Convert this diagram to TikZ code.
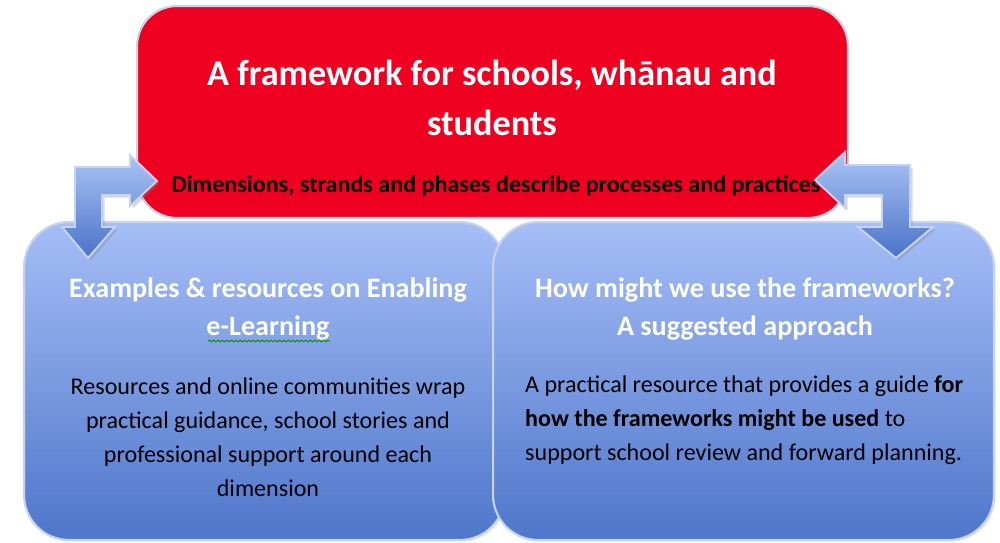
\documentclass[tikz,border=0pt]{standalone}
\usepackage{fontspec}
\setmainfont{Carlito}
\usepackage{tikz}
\usetikzlibrary{shadows,decorations.pathmorphing}
\definecolor{frameRed}{RGB}{240,0,32}
\definecolor{edgeBlue}{RGB}{198,212,238}
\definecolor{boxTop}{RGB}{166,190,247}
\definecolor{boxBottom}{RGB}{78,118,202}
\definecolor{arrowTop}{RGB}{170,196,245}
\definecolor{arrowBottom}{RGB}{74,114,200}

\begin{document}
\begin{tikzpicture}[x=0.02cm, y=0.02cm,
  bluebox/.style={draw=edgeBlue, line width=1.2pt, rounded corners=0.9cm,
    top color=boxTop, bottom color=boxBottom, minimum height=6.36cm,
    drop shadow={opacity=0.15, shadow xshift=1pt, shadow yshift=-1pt}},
  bentarrow/.style={draw=edgeBlue, line width=1.1pt, line join=miter,
    top color=arrowTop, bottom color=arrowBottom,
    drop shadow={opacity=0.3, shadow xshift=1.5pt, shadow yshift=-1.5pt}},
  headtext/.style={text=white, font=\bfseries\fontsize{16}{21.5}\selectfont, align=center},
  bodytext/.style={text=black, font=\fontsize{13.7}{19.3}\selectfont}]
\useasboundingbox (0,0) rectangle (1000,542);
%%%%% Boxes %%%%%
\node[bluebox, minimum width=9.62cm] (examples) at (264.5,161) {};
\node[bluebox, minimum width=10.02cm] (approach) at (743.5,161) {};
\node[draw=edgeBlue, line width=1.2pt, rounded corners=0.8cm, fill=frameRed,
  minimum width=14.22cm, minimum height=4.24cm] (framework) at (492.5,430) {};
%%%%% Texts %%%%%
\node[text=white, font=\bfseries\fontsize{20.6}{28.5}\selectfont, align=center]
  (frametitle) at (492,444) {A framework for schools, wh\=anau and\\students};
\node[font=\bfseries\fontsize{13.7}{16}\selectfont] (framesub) at (496,356)
  {Dimensions, strands and phases describe processes and practices};
\node[headtext] (extitle) at (268,233) {Examples \& resources on Enabling\\e-Learning};
\node[bodytext, align=center] (exbody) at (268,105)
  {Resources and online communities wrap\\practical guidance, school stories and\\professional support around each\\dimension};
\node[headtext] (aptitle) at (745,233) {How might we use the frameworks?\\A suggested approach};
\node[bodytext, align=left, anchor=west] (apbody) at (519,122)
  {A practical resource that provides a guide \textbf{for}\\\textbf{how the frameworks might be used} to\\support school review and forward planning.};
% spelling mark under e-Learning
\draw[green!55!black, line width=0.5pt, decorate,
  decoration={snake, amplitude=0.5pt, segment length=2.5pt}] (208,201) -- (330,201);
%%%%% Arrows %%%%%
\draw[bentarrow] (75,375) -- (130,375) -- (130,387) -- (157,361) -- (130,336) -- (130,347)
  -- (102,347) -- (102,315) -- (115,315) -- (88,284) -- (62,315) -- (75,315) -- cycle;
\draw[bentarrow] (910,377) -- (845,377) -- (845,390) -- (815,362) -- (845,334) -- (845,347)
  -- (882,347) -- (882,315) -- (858,315) -- (896,284) -- (933,315) -- (910,315) -- cycle;
\end{tikzpicture}
\end{document}
